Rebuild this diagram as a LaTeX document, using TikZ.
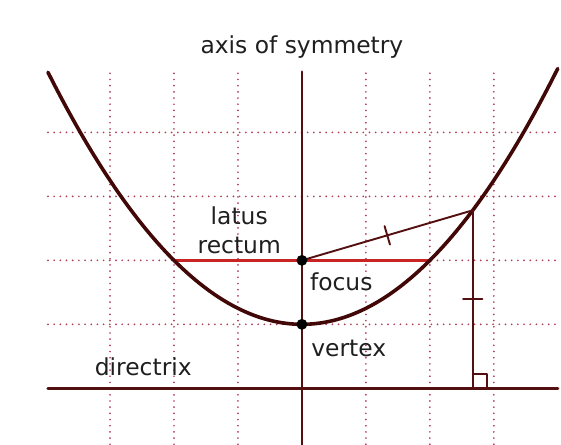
\documentclass[tikz,border=0pt]{standalone}
\usepackage{fontspec}
\setsansfont{DejaVu Sans}
\usepackage{tikz}
\usetikzlibrary{arrows.meta}
\usetikzlibrary{calc}
\usetikzlibrary{positioning}
\usetikzlibrary{decorations.markings}
\definecolor{CurveRed}{RGB}{66,8,8}
\definecolor{LineRed}{RGB}{84,16,16}
\definecolor{LatusRed}{RGB}{200,36,36}
\definecolor{GridRed}{RGB}{175,60,85}
\tikzset{
	gridline/.style={GridRed, line width=0.85pt, line cap=round, dash pattern=on 0pt off 2.75pt},
	curve/.style={CurveRed, line width=1.6pt},
	mainline/.style={LineRed, line width=1.1pt},
	directline/.style={LineRed, line width=1.5pt},
	latus/.style={LatusRed, line width=1.05pt},
	thinline/.style={LineRed, line width=0.85pt},
	ptdot/.style={black, fill=black},
	lab/.style={text=black!88, font=\sffamily\fontsize{10.4}{13}\selectfont, inner sep=0pt},
	tickmark/.style={postaction={decorate, decoration={markings,
		mark=at position 0.5 with {\draw[thinline] (0,-0.15) -- (0,0.15);}}}},
}

\begin{document}
\begin{tikzpicture}[line cap=round, line join=round]
			
			\useasboundingbox (-4.72,-1.875) rectangle (4.05,5.07);
			
			% --- dotted grid
			\foreach \gx in {-3,-2,-1,1,2,3}
				\draw[gridline] (\gx,-1.875) -- (\gx,3.94);
			\foreach \gy in {0,1,2,3}
				\draw[gridline] (-3.97,\gy) -- (4.05,\gy);
			
			% --- points
			\coordinate (V) at (0,0);
			\coordinate (F) at (0,1);
			\coordinate (P) at (2.67,{2.67*2.67/4});
			\coordinate (Q) at (2.67,-1);
			\coordinate (L) at (-2,1);
			\coordinate (R) at (2,1);
			\coordinate (axtop) at (0,3.95);
			\coordinate (axbot) at (0,-1.9);
			\coordinate (dirL) at (-3.97,-1);
			\coordinate (dirR) at (4,-1);
			
			% --- axis and directrix
			\draw[mainline] (axtop) -- (axbot);
			\draw[directline] (dirL) -- (dirR);
			
			% --- latus rectum
			\draw[latus] (L) -- (R);
			
			% --- parabola y = x^2/4
			\draw[curve] plot[domain=-3.97:4, samples=80, smooth] (\x,{\x*\x/4});
			
			% --- equal distances with ticks
			\draw[thinline, tickmark] (F) -- (P);
			\draw[thinline, tickmark] (P) -- (Q);
			\draw[thinline] ($(Q)+(0,0.23)$) -| ($(Q)+(0.23,0)$);
			
			% focus and vertex
			\fill[ptdot] (F) circle (0.085);
			\fill[ptdot] (V) circle (0.085);
			
			% --- labels
			\node[lab] (lblaxis) at (0,4.33) {axis of symmetry};
			\node[lab, align=center] (lbllatus) at (-0.98,1.47) {latus\\rectum};
			\node[lab, anchor=west] (lblfocus) at (0.12,0.66) {focus};
			\node[lab, anchor=west] (lblvertex) at (0.14,-0.37) {vertex};
			\node[lab] (lbldirectrix) at (-2.48,-0.67) {directrix};
			
		\end{tikzpicture}
\end{document}
